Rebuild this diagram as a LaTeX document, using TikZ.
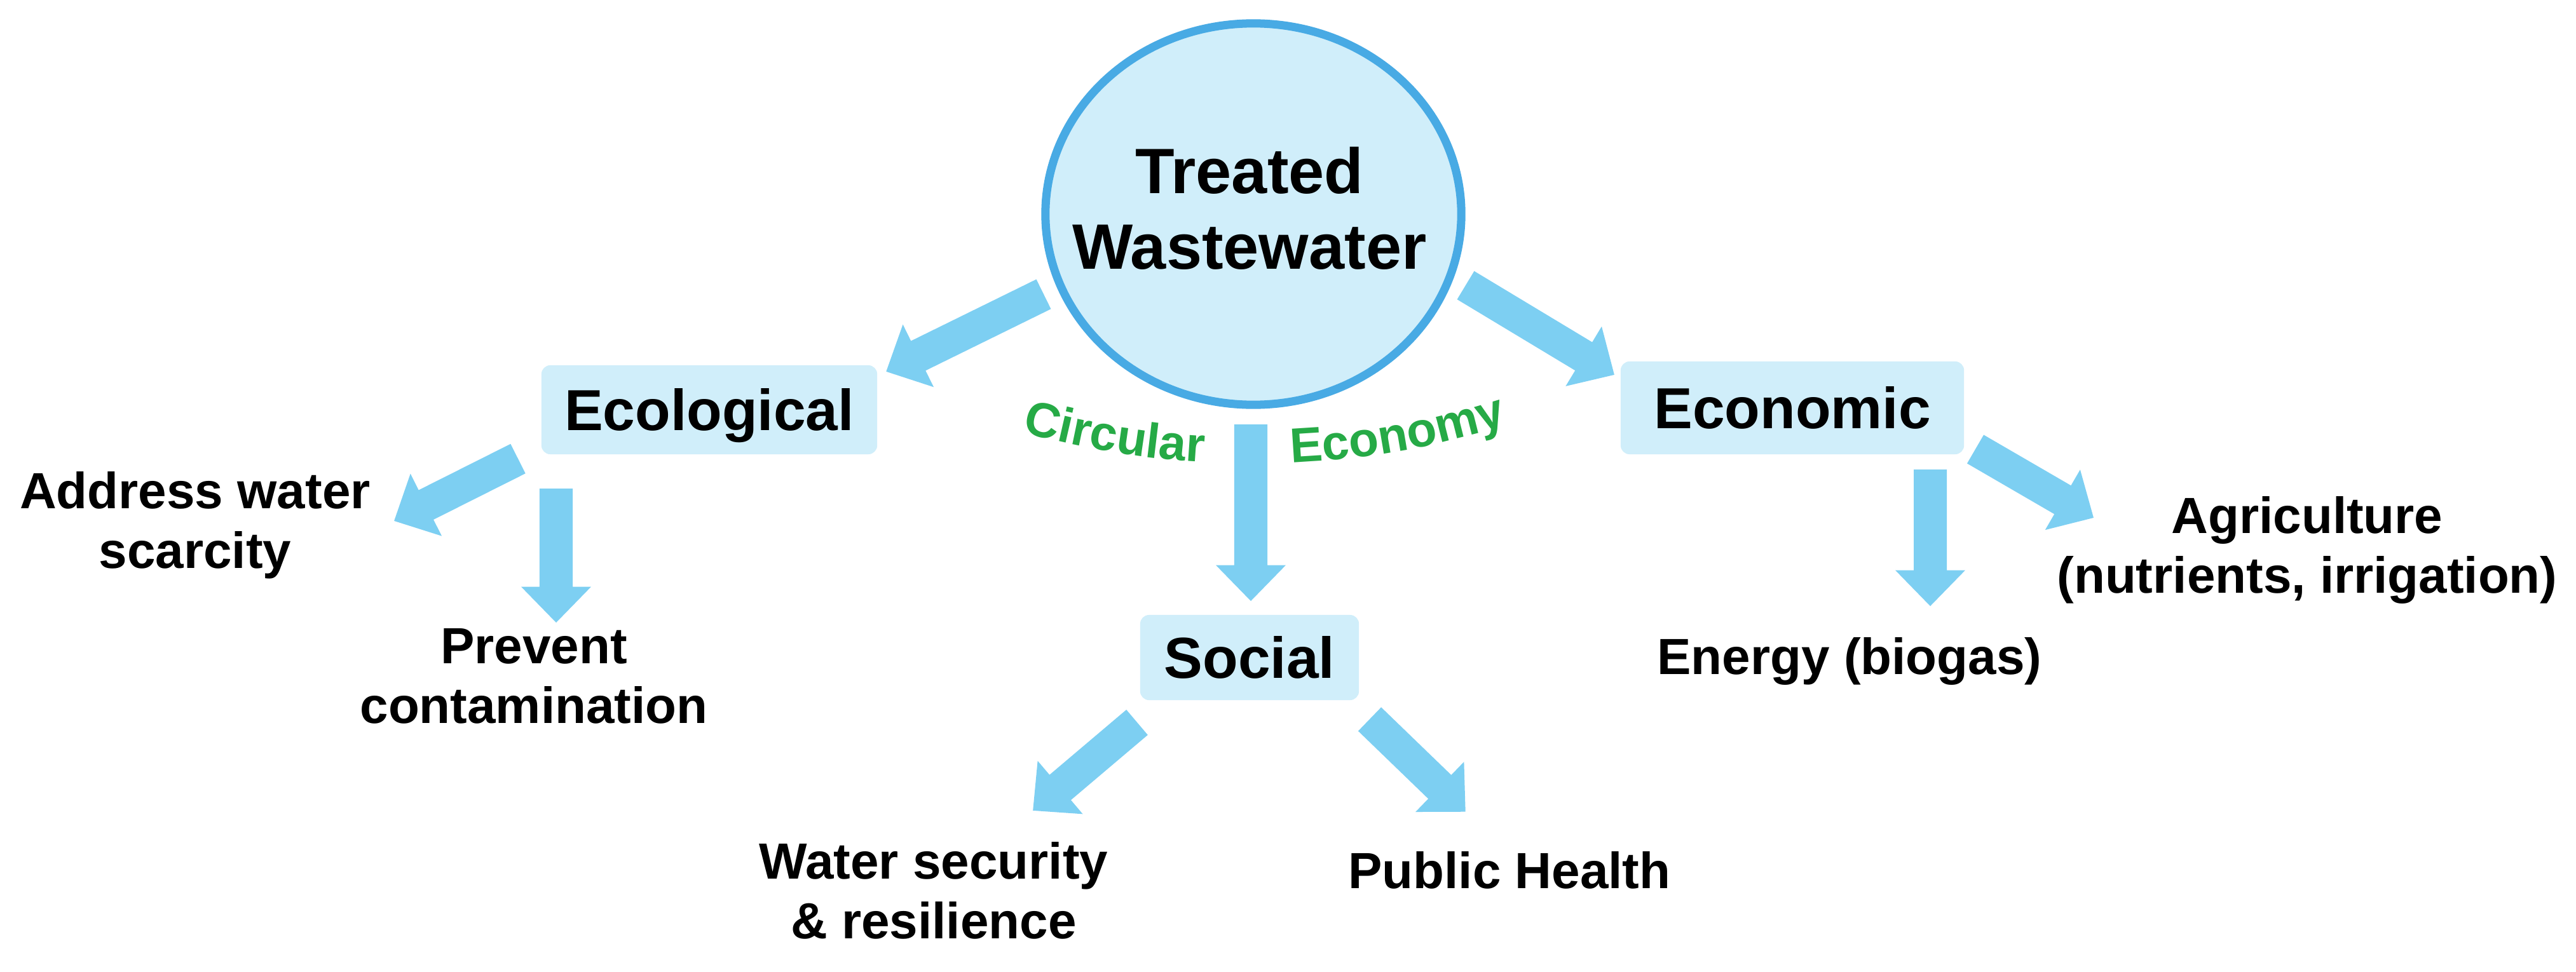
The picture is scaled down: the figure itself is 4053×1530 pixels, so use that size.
\documentclass[tikz,border=0pt]{standalone}
\usepackage{fontspec}
\setmainfont{Liberation Sans}
\usetikzlibrary{decorations.text,shapes.geometric}
\definecolor{arrowc}{RGB}{125,207,242}
\definecolor{boxc}{RGB}{208,238,250}
\definecolor{ringc}{RGB}{72,170,228}
\definecolor{ecogreen}{RGB}{38,170,70}
\newcommand{\ArSw}{7.4pt}
\newcommand{\ArHw}{15.6pt}
\newcommand{\ArHl}{16pt}
\newcommand{\blkarrow}[2]{%
  \path (#1); \pgfgetlastxy{\ArAx}{\ArAy}%
  \path (#2); \pgfgetlastxy{\ArBx}{\ArBy}%
  \pgfmathsetmacro{\ArLen}{veclen(\ArBx-\ArAx,\ArBy-\ArAy)}%
  \pgfmathsetmacro{\ArAng}{atan2(\ArBy-\ArAy,\ArBx-\ArAx)}%
  \fill[arrowc, shift={(#1)}, rotate=\ArAng]
    (0pt,-\ArSw) -- ({\ArLen pt-\ArHl},-\ArSw) -- ({\ArLen pt-\ArHl},-\ArHw)
    -- (\ArLen pt,0pt) -- ({\ArLen pt-\ArHl},\ArHw) -- ({\ArLen pt-\ArHl},\ArSw)
    -- (0pt,\ArSw) -- cycle;}
\newcommand{\leaffont}{\fontsize{22.76pt}{27pt}\selectfont\bfseries}
\newcommand{\catfont}{\fontsize{25.9pt}{31pt}\selectfont\bfseries}
\newcommand{\titlefont}{\fontsize{28.7pt}{34.1pt}\selectfont\bfseries}
\newcommand{\greenfont}{\fontsize{21.9pt}{26pt}\selectfont\bfseries}
\begin{document}
\begin{tikzpicture}[x=0.01cm, y=0.01cm,
  catbox/.style={fill=boxc, rounded corners=0.14cm, inner sep=0pt, font=\catfont,
                 text height=18.3pt, text depth=0pt},
  leaf/.style={inner sep=0pt, anchor=base, font=\leaffont},
  greentext/.style={decorate, decoration={text along path, text align=center,
                 text={|\greenfont\color{ecogreen}|#1}}}]
\fill[white] (0,0) rectangle (4053,-1530);
\useasboundingbox (0,0) rectangle (4053,-1530);

% central node
\node[ellipse, draw=ringc, line width=3.7pt, fill=boxc, inner sep=0pt,
      minimum width=6.54cm, minimum height=6.0cm] (tw) at (1972,-337) {};
\node[inner sep=0pt, anchor=base, font=\titlefont] (twtext) at (1966,-304)
      {\begin{tabular}[t]{@{}c@{}}Treated\\Wastewater\end{tabular}};

% category boxes
\node[catbox, minimum width=5.28cm, minimum height=1.40cm] (eco) at (1116,-645) {Ecological};
\node[catbox, minimum width=3.44cm, minimum height=1.34cm] (soc) at (1966,-1035) {Social};
\node[catbox, minimum width=5.40cm, minimum height=1.46cm] (econ) at (2820,-642) {Economic};

% leaves
\node[leaf] (addr) at (307,-800) {\begin{tabular}[t]{@{}c@{}}Address water\\scarcity\end{tabular}};
\node[leaf] (prev) at (840,-1044) {\begin{tabular}[t]{@{}c@{}}Prevent\\contamination\end{tabular}};
\node[leaf] (wsec) at (1469,-1383) {\begin{tabular}[t]{@{}c@{}}Water security\\\& resilience\end{tabular}};
\node[leaf] (hlth) at (2375,-1398) {Public Health};
\node[leaf] (enrg) at (2910,-1061) {Energy (biogas)};
\node[leaf] (agri) at (3630,-839) {\begin{tabular}[t]{@{}c@{}}Agriculture\\(nutrients, irrigation)\end{tabular}};

% arrow end points
\coordinate (s1) at (1642,-463);  \coordinate (t1) at (1394,-585);
\coordinate (s2) at (1968,-668);  \coordinate (t2) at (1968,-946);
\coordinate (s3) at (2306,-449);  \coordinate (t3) at (2540,-590);
\coordinate (s4) at (815,-722);   \coordinate (t4) at (620,-820);
\coordinate (s5) at (875,-769);   \coordinate (t5) at (875,-980);
\coordinate (s6) at (1789,-1137); \coordinate (t6) at (1625,-1276);
\coordinate (s7) at (2155,-1132); \coordinate (t7) at (2306,-1278);
\coordinate (s8) at (3037,-739);  \coordinate (t8) at (3037,-954);
\coordinate (s9) at (3108,-707);  \coordinate (t9) at (3294,-815);

\blkarrow{s1}{t1}
\blkarrow{s2}{t2}
\blkarrow{s3}{t3}
\blkarrow{s4}{t4}
\blkarrow{s5}{t5}
\blkarrow{s6}{t6}
\blkarrow{s7}{t7}
\blkarrow{s8}{t8}
\blkarrow{s9}{t9}

% curved green label
\coordinate (arcc) at (1971,610);
\path[greentext=Circular] (arcc) ++(252:1340) arc[start angle=252, end angle=269, radius=1340];
\path[greentext=Economy] (arcc) ++(271:1340) arc[start angle=271, end angle=289, radius=1340];
\end{tikzpicture}
\end{document}
